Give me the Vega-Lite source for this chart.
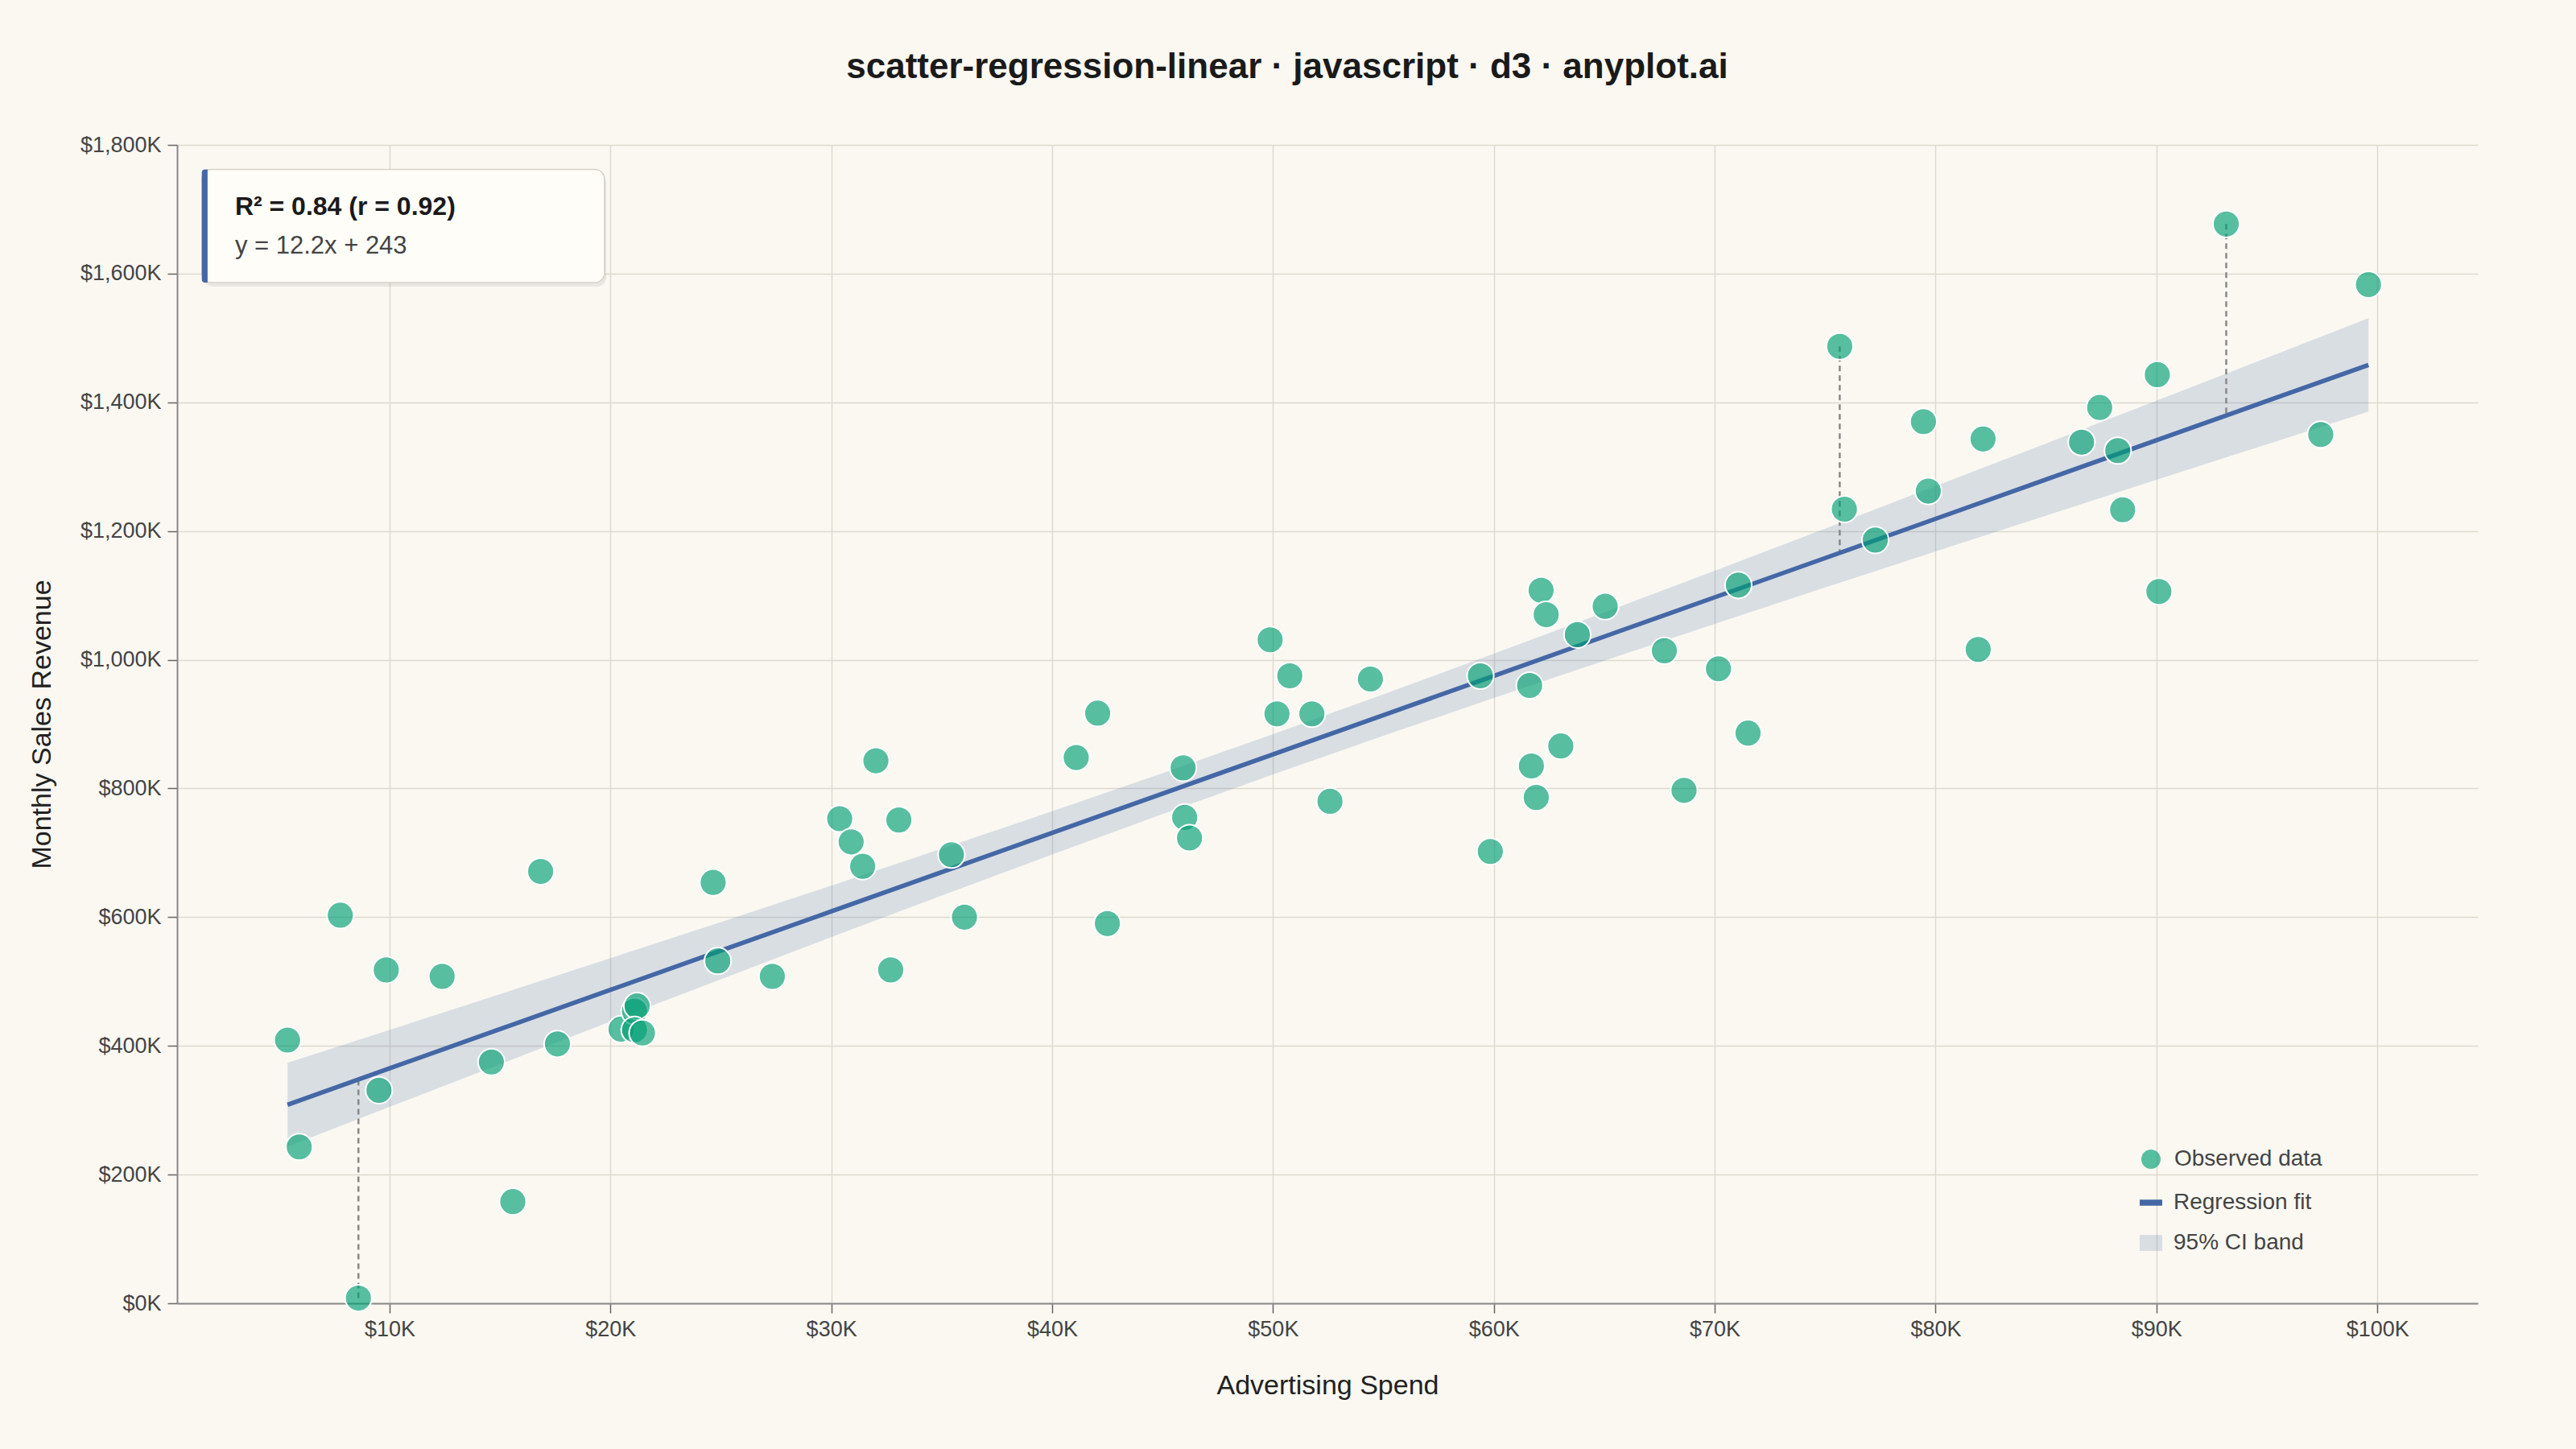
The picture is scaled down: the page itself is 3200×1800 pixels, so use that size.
{
  "$schema": "https://vega.github.io/schema/vega-lite/v6.json",
  "width": 2858,
  "height": 1439,
  "autosize": {"type": "none"},
  "padding": {"left": 220, "top": 180, "right": 122, "bottom": 181},
  "background": "#FAF8F1",
  "view": {"stroke": null},
  "title": {
    "text": "scatter-regression-linear · javascript · d3 · anyplot.ai",
    "fontSize": 44,
    "fontWeight": "bold",
    "color": "#1a1a1a",
    "anchor": "middle",
    "dx": -50,
    "offset": 60
  },
  "datasets": {
    "points": [
      {"spend": 5.38, "revenue": 409}, {"spend": 5.91, "revenue": 243}, {"spend": 7.77, "revenue": 603},
      {"spend": 8.59, "revenue": 8}, {"spend": 9.52, "revenue": 331}, {"spend": 9.85, "revenue": 518},
      {"spend": 12.38, "revenue": 508}, {"spend": 14.61, "revenue": 375}, {"spend": 15.58, "revenue": 158},
      {"spend": 16.84, "revenue": 671}, {"spend": 17.6, "revenue": 403}, {"spend": 20.48, "revenue": 426},
      {"spend": 21.09, "revenue": 454}, {"spend": 21.21, "revenue": 462}, {"spend": 21.09, "revenue": 425},
      {"spend": 21.45, "revenue": 420}, {"spend": 24.65, "revenue": 654}, {"spend": 24.86, "revenue": 532},
      {"spend": 27.33, "revenue": 508}, {"spend": 30.38, "revenue": 753}, {"spend": 30.9, "revenue": 717},
      {"spend": 31.42, "revenue": 679}, {"spend": 32.02, "revenue": 843}, {"spend": 32.69, "revenue": 518},
      {"spend": 33.06, "revenue": 751}, {"spend": 35.44, "revenue": 697}, {"spend": 36.03, "revenue": 600},
      {"spend": 41.09, "revenue": 848}, {"spend": 42.06, "revenue": 917}, {"spend": 42.5, "revenue": 590},
      {"spend": 45.93, "revenue": 832}, {"spend": 46.0, "revenue": 755}, {"spend": 46.22, "revenue": 723},
      {"spend": 49.87, "revenue": 1031}, {"spend": 50.18, "revenue": 916}, {"spend": 50.76, "revenue": 975},
      {"spend": 51.76, "revenue": 916}, {"spend": 52.58, "revenue": 780}, {"spend": 54.41, "revenue": 970},
      {"spend": 59.39, "revenue": 975}, {"spend": 59.84, "revenue": 702}, {"spend": 61.62, "revenue": 960},
      {"spend": 61.7, "revenue": 835}, {"spend": 61.92, "revenue": 786}, {"spend": 62.14, "revenue": 1108},
      {"spend": 62.37, "revenue": 1070}, {"spend": 63.03, "revenue": 866}, {"spend": 63.78, "revenue": 1039},
      {"spend": 65.04, "revenue": 1083}, {"spend": 67.72, "revenue": 1014}, {"spend": 68.61, "revenue": 797},
      {"spend": 70.17, "revenue": 986}, {"spend": 71.07, "revenue": 1116}, {"spend": 71.51, "revenue": 886},
      {"spend": 75.66, "revenue": 1487}, {"spend": 75.87, "revenue": 1234}, {"spend": 77.27, "revenue": 1186},
      {"spend": 79.45, "revenue": 1370}, {"spend": 79.67, "revenue": 1262}, {"spend": 81.93, "revenue": 1016},
      {"spend": 82.15, "revenue": 1343}, {"spend": 86.61, "revenue": 1338}, {"spend": 87.43, "revenue": 1392},
      {"spend": 88.25, "revenue": 1325}, {"spend": 88.47, "revenue": 1233}, {"spend": 90.04, "revenue": 1443},
      {"spend": 90.11, "revenue": 1106}, {"spend": 93.16, "revenue": 1677}, {"spend": 97.44, "revenue": 1350},
      {"spend": 99.6, "revenue": 1583}
    ],
    "band": [
      {"spend": 5.38, "fit": 308.6, "lo": 243.6, "hi": 373.6},
      {"spend": 10, "fit": 365, "lo": 305.2, "hi": 424.8},
      {"spend": 15, "fit": 426, "lo": 371.6, "hi": 480.4},
      {"spend": 20, "fit": 487, "lo": 437.8, "hi": 536.2},
      {"spend": 25, "fit": 548, "lo": 503.6, "hi": 592.4},
      {"spend": 30, "fit": 609, "lo": 569, "hi": 649},
      {"spend": 35, "fit": 670, "lo": 633.7, "hi": 706.3},
      {"spend": 40, "fit": 731, "lo": 697.5, "hi": 764.5},
      {"spend": 45, "fit": 792, "lo": 760.2, "hi": 823.8},
      {"spend": 50, "fit": 853, "lo": 821.7, "hi": 884.3},
      {"spend": 55, "fit": 914, "lo": 881.8, "hi": 946.2},
      {"spend": 60, "fit": 975, "lo": 940.7, "hi": 1009.3},
      {"spend": 65, "fit": 1036, "lo": 998.6, "hi": 1073.4},
      {"spend": 70, "fit": 1097, "lo": 1055.7, "hi": 1138.3},
      {"spend": 75, "fit": 1158, "lo": 1112.2, "hi": 1203.8},
      {"spend": 80, "fit": 1219, "lo": 1168.2, "hi": 1269.8},
      {"spend": 85, "fit": 1280, "lo": 1224, "hi": 1336},
      {"spend": 90, "fit": 1341, "lo": 1279.5, "hi": 1402.5},
      {"spend": 95, "fit": 1402, "lo": 1334.8, "hi": 1469.2},
      {"spend": 99.6, "fit": 1458.1, "lo": 1385.6, "hi": 1530.6}
    ],
    "residuals": [
      {"spend": 8.59, "revenue": 8, "fit": 347.8},
      {"spend": 75.66, "revenue": 1487, "fit": 1166},
      {"spend": 93.16, "revenue": 1677, "fit": 1379.6}
    ],
    "note": [
      {"stat": "R² = 0.84 (r = 0.92)", "eq": "y = 12.2x + 243"}
    ]
  },
  "layer": [
    {
      "data": {"name": "band"},
      "mark": {"type": "area", "opacity": 0.18},
      "encoding": {
        "x": {
          "field": "spend",
          "type": "quantitative",
          "scale": {"domain": [0.38, 104.55], "nice": false, "zero": false},
          "axis": {
            "values": [10, 20, 30, 40, 50, 60, 70, 80, 90, 100],
            "labelExpr": "'$' + format(datum.value, ',') + 'K'",
            "title": "Advertising Spend",
            "titleFontSize": 34,
            "titleFontWeight": "normal",
            "titleColor": "#222222",
            "titlePadding": 40,
            "labelFontSize": 27,
            "labelColor": "#444444",
            "labelPadding": 7,
            "tickSize": 12,
            "tickColor": "#666666",
            "tickWidth": 1.5,
            "domainColor": "#888888",
            "domainWidth": 2,
            "grid": true,
            "gridColor": "#DDD9CF",
            "gridWidth": 1.5
          }
        },
        "y": {
          "field": "lo",
          "type": "quantitative",
          "scale": {"domain": [0, 1800], "nice": false, "zero": true},
          "axis": {
            "values": [0, 200, 400, 600, 800, 1000, 1200, 1400, 1600, 1800],
            "labelExpr": "'$' + format(datum.value, ',') + 'K'",
            "title": "Monthly Sales Revenue",
            "titleFontSize": 34,
            "titleFontWeight": "normal",
            "titleColor": "#222222",
            "titlePadding": 30,
            "labelFontSize": 27,
            "labelColor": "#444444",
            "labelPadding": 8,
            "tickSize": 12,
            "tickColor": "#666666",
            "tickWidth": 1.5,
            "domainColor": "#888888",
            "domainWidth": 2,
            "grid": true,
            "gridColor": "#DDD9CF",
            "gridWidth": 1.5
          }
        },
        "y2": {"field": "hi"},
        "fill": {
          "datum": "95% CI band",
          "scale": {"domain": ["95% CI band"], "range": ["#4467a5"]},
          "legend": {
            "title": null,
            "orient": "none",
            "legendX": 2438,
            "legendY": 1350,
            "padding": 0,
            "labelFontSize": 28,
            "labelColor": "#444444",
            "labelOffset": 14,
            "labelLimit": 500,
            "symbolType": "M-1,-0.71H1V0.71H-1Z",
            "symbolSize": 784,
            "symbolStrokeWidth": 0
          }
        }
      }
    },
    {
      "data": {"name": "residuals"},
      "mark": {"type": "rule", "color": "#888888", "strokeWidth": 2.5, "strokeDash": [7, 5]},
      "encoding": {
        "x": {"field": "spend", "type": "quantitative"},
        "y": {"field": "revenue", "type": "quantitative"},
        "y2": {"field": "fit"}
      }
    },
    {
      "data": {"name": "band"},
      "mark": {"type": "line", "strokeWidth": 5.5},
      "encoding": {
        "x": {"field": "spend", "type": "quantitative"},
        "y": {"field": "fit", "type": "quantitative"},
        "stroke": {
          "datum": "Regression fit",
          "scale": {"domain": ["Regression fit"], "range": ["#4467a5"]},
          "legend": {
            "title": null,
            "orient": "none",
            "legendX": 2434,
            "legendY": 1296,
            "padding": 0,
            "labelFontSize": 28,
            "labelColor": "#444444",
            "labelOffset": 10,
            "labelLimit": 500,
            "symbolType": "stroke",
            "symbolSize": 784,
            "symbolStrokeWidth": 7.5
          }
        }
      }
    },
    {
      "data": {"name": "points"},
      "mark": {
        "type": "point",
        "shape": "circle",
        "filled": true,
        "size": 1100,
        "fillOpacity": 0.65,
        "stroke": "white",
        "strokeWidth": 2
      },
      "encoding": {
        "x": {"field": "spend", "type": "quantitative"},
        "y": {"field": "revenue", "type": "quantitative"},
        "color": {
          "datum": "Observed data",
          "scale": {"domain": ["Observed data"], "range": ["#009E73"]},
          "legend": {
            "title": null,
            "orient": "none",
            "legendX": 2438,
            "legendY": 1246,
            "padding": 0,
            "labelFontSize": 28,
            "labelColor": "#444444",
            "labelOffset": 15,
            "labelLimit": 500,
            "symbolType": "circle",
            "symbolSize": 573,
            "symbolOpacity": 0.65,
            "symbolStrokeWidth": 0
          }
        }
      }
    },
    {
      "data": {"name": "note"},
      "mark": {"type": "rect", "fill": "#000000", "opacity": 0.07, "cornerRadius": 12},
      "encoding": {
        "x": {"datum": 1.56, "type": "quantitative"},
        "x2": {"datum": 19.82},
        "y": {"datum": 1580, "type": "quantitative"},
        "y2": {"datum": 1756}
      }
    },
    {
      "data": {"name": "note"},
      "mark": {"type": "rect", "fill": "#FFFDF8", "stroke": "#D5D2C8", "strokeWidth": 1.5, "cornerRadius": 12},
      "encoding": {
        "x": {"datum": 1.5, "type": "quantitative"},
        "x2": {"datum": 19.73},
        "y": {"datum": 1586, "type": "quantitative"},
        "y2": {"datum": 1762}
      }
    },
    {
      "data": {"name": "note"},
      "mark": {"type": "rect", "fill": "#4467a5", "cornerRadiusTopLeft": 4, "cornerRadiusBottomLeft": 4},
      "encoding": {
        "x": {"datum": 1.5, "type": "quantitative"},
        "x2": {"datum": 1.76},
        "y": {"datum": 1586, "type": "quantitative"},
        "y2": {"datum": 1762}
      }
    },
    {
      "data": {"name": "note"},
      "mark": {"type": "text", "align": "left", "baseline": "alphabetic", "fontSize": 32, "fontWeight": "bold", "color": "#1a1a1a"},
      "encoding": {
        "x": {"datum": 3.0, "type": "quantitative"},
        "y": {"datum": 1691, "type": "quantitative"},
        "text": {"field": "stat"}
      }
    },
    {
      "data": {"name": "note"},
      "mark": {"type": "text", "align": "left", "baseline": "alphabetic", "fontSize": 31, "color": "#444444"},
      "encoding": {
        "x": {"datum": 3.0, "type": "quantitative"},
        "y": {"datum": 1631, "type": "quantitative"},
        "text": {"field": "eq"}
      }
    }
  ],
  "config": {
    "font": "Liberation Sans",
    "axis": {"labelFont": "Liberation Sans", "titleFont": "Liberation Sans"},
    "legend": {"labelFont": "Liberation Sans"}
  }
}
